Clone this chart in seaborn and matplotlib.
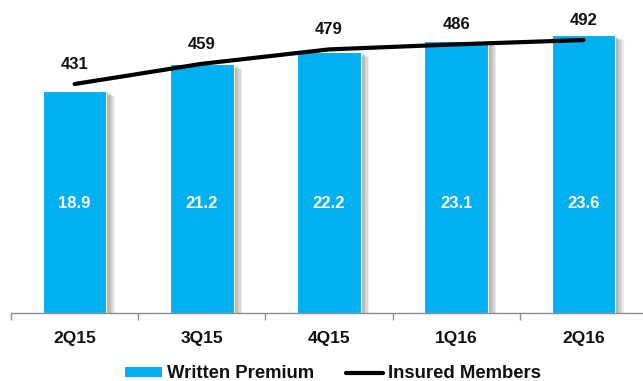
import numpy as np
import pandas as pd
import seaborn as sns
import matplotlib
matplotlib.use("Agg")
import matplotlib.pyplot as plt
import matplotlib.patheffects as pe
from matplotlib.patches import Patch
from matplotlib.lines import Line2D

quarters = ["2Q15", "3Q15", "4Q15", "1Q16", "2Q16"]
written_premium = [18.9, 21.2, 22.2, 23.1, 23.6]
insured_members = [431, 459, 479, 486, 492]

BAR_COLOR = "#00B0F0"
TEXT_COLOR = "#111111"

sns.set_theme(style="white")
plt.rcParams["font.family"] = ["Liberation Sans", "DejaVu Sans"]

fig = plt.figure(figsize=(6.43, 3.81), dpi=100)
ax = fig.add_axes([11 / 643, 68 / 381, 636 / 643, 313 / 381])

df = pd.DataFrame({"quarter": quarters, "premium": written_premium})
sns.barplot(data=df, x="quarter", y="premium", color=BAR_COLOR, width=0.5,
            saturation=1, ax=ax, edgecolor="white", linewidth=0.8)

# soft drop shadow on the right of each bar, built from stacked offsets
shadow = [pe.SimplePatchShadow(offset=(k, -0.6 * k), shadow_rgbFace="#707070",
                               alpha=0.13) for k in range(6, 0, -1)]
for bar in ax.patches:
    bar.set_path_effects(shadow + [pe.Normal()])

ax.set_xlim(-0.5, len(quarters) - 0.5)
ax.set_ylim(0, 26.6)
ax.set_xlabel("")
ax.set_ylabel("")
ax.set_yticks([])
for s in ["top", "right", "left"]:
    ax.spines[s].set_visible(False)
ax.spines["bottom"].set_color("#8c8c8c")
ax.spines["bottom"].set_linewidth(1.0)

# value labels inside the bars
for i, v in enumerate(written_premium):
    ax.text(i, 9.3, f"{v:.1f}", ha="center", va="center", color="white",
            fontsize=12, fontweight="bold")

# category labels, with tick marks between categories
ax.set_xticks(range(len(quarters)))
ax.set_xticklabels(quarters, fontsize=12.5, fontweight="bold", color=TEXT_COLOR)
ax.tick_params(axis="x", length=0, pad=13)
ax.set_xticks(np.arange(-0.5, len(quarters), 1.0), minor=True)
ax.tick_params(axis="x", which="minor", bottom=True, length=5, width=1,
               color="#8c8c8c", direction="out")

# insured members on a secondary axis
ax2 = ax.twinx()
sns.lineplot(x=np.arange(len(quarters)), y=insured_members, ax=ax2,
             color="black", linewidth=3, solid_capstyle="round")
ax2.set_ylim(113.5, 547.5)
ax2.set_yticks([])
ax2.set_ylabel("")
for s in ["top", "right", "left", "bottom"]:
    ax2.spines[s].set_visible(False)
for i, v in enumerate(insured_members):
    ax2.annotate(f"{v}", (i, v), xytext=(0, 14), textcoords="offset points",
                 ha="center", va="center", fontsize=12, fontweight="bold",
                 color=TEXT_COLOR)

handles = [Patch(facecolor=BAR_COLOR, edgecolor="none", label="Written Premium"),
           Line2D([0], [0], color="black", linewidth=3, label="Insured Members")]
fig.legend(handles=handles, loc="center", bbox_to_anchor=(0.518, 7 / 381),
           ncol=2, frameon=False, prop={"weight": "bold", "size": 13.3},
           labelcolor=TEXT_COLOR, handlelength=2.0, handleheight=0.45,
           handletextpad=0.3, columnspacing=1.7, borderpad=0.2)

fig.savefig("out.png", dpi=100)
